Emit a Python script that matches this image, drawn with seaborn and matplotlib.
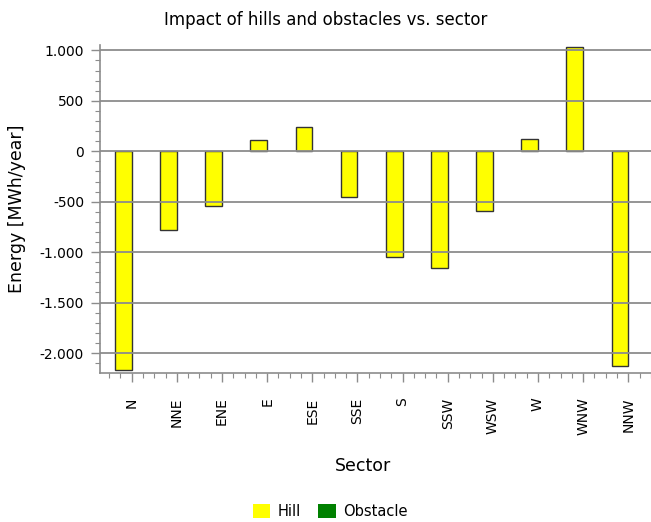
import matplotlib
matplotlib.use("Agg")
import matplotlib.pyplot as plt
import matplotlib.ticker as mticker
from matplotlib.patches import Patch
import seaborn as sns
import pandas as pd

sectors = ["N", "NNE", "ENE", "E", "ESE", "SSE", "S", "SSW", "WSW", "W", "WNW", "NNW"]
hill = [-2165, -779, -538, 112, 244, -449, -1053, -1155, -597, 122, 1030, -2132]
obstacle = [0, 0, 0, 0, 0, 0, 0, 0, 0, 0, 0, 0]
series_names = ["Hill", "Obstacle"]
series_colors = ["#FFFF00", "#008000"]

df = pd.DataFrame({
    "Sector": sectors * 2,
    "Energy": hill + obstacle,
    "Type": [series_names[0]] * len(sectors) + [series_names[1]] * len(sectors),
})

sns.set_style("white")
plt.rcParams["font.family"] = ["DejaVu Sans"]
plt.rcParams["text.color"] = "black"
plt.rcParams["axes.labelcolor"] = "black"
plt.rcParams["xtick.color"] = "black"
plt.rcParams["ytick.color"] = "black"

W, H = 651, 522
fig = plt.figure(figsize=(W / 100, H / 100), dpi=100)
ax = fig.add_axes([100 / W, 149 / H, 551 / W, 328 / H])

sns.barplot(data=df, x="Sector", y="Energy", hue="Type", order=sectors,
            hue_order=series_names, palette=dict(zip(series_names, series_colors)),
            width=0.74, saturation=1, edgecolor="#333333", linewidth=1.0,
            legend=False, ax=ax)

for p in ax.patches:
    if abs(p.get_height()) < 1e-9:
        p.set_linewidth(0)

ax.set_xlim(-0.702, 11.503)
ax.set_ylim(-2198, 1053)

ax.yaxis.set_major_locator(mticker.MultipleLocator(500))
ax.yaxis.set_minor_locator(mticker.MultipleLocator(100))
ax.yaxis.set_major_formatter(mticker.FuncFormatter(lambda v, _: f"{v:,.0f}".replace(",", ".")))
ax.xaxis.set_minor_locator(mticker.MultipleLocator(0.25))

grid_c = "#8c8c8c"
ax.set_axisbelow(False)
ax.grid(axis="y", which="major", color=grid_c, linewidth=1.3)
ax.grid(axis="x", visible=False)

for s in ["top", "right"]:
    ax.spines[s].set_visible(False)
for s in ["left", "bottom"]:
    ax.spines[s].set_color(grid_c)
    ax.spines[s].set_linewidth(1.2)

ax.tick_params(axis="both", which="major", direction="out", length=6.5, width=1,
               color=grid_c, labelsize=10, labelcolor="black")
ax.tick_params(axis="both", which="minor", direction="out", length=3.6, width=0.8,
               color=grid_c)
ax.tick_params(axis="y", which="major", pad=5, left=True)
ax.tick_params(axis="y", which="minor", left=True)
ax.tick_params(axis="x", which="both", bottom=True)
ax.tick_params(axis="x", which="major", pad=11)
plt.setp(ax.get_xticklabels(), rotation=90, va="top", ha="center")

ax.set_xlabel("Sector", fontsize=12.5, va="center", color="black")
ax.xaxis.set_label_coords(0.477, -0.2835)
ax.set_ylabel("Energy [MWh/year]", fontsize=12.5, va="center", color="black")
ax.yaxis.set_label_coords((17 - 100) / 551, 0.5)

fig.text(0.5, 1 - 20 / H, "Impact of hills and obstacles vs. sector",
         ha="center", va="center", fontsize=12, color="black")

handles = [Patch(facecolor=c, edgecolor="none", label=n) for n, c in zip(series_names, series_colors)]
fig.legend(handles=handles, loc="center", bbox_to_anchor=(330 / W, 1 - 511 / H), ncol=2,
           frameon=False, fontsize=10.5, handlelength=1.2, handleheight=1.1,
           handletextpad=0.5, columnspacing=1.2, labelcolor="black")

fig.savefig("out.png", dpi=100)
